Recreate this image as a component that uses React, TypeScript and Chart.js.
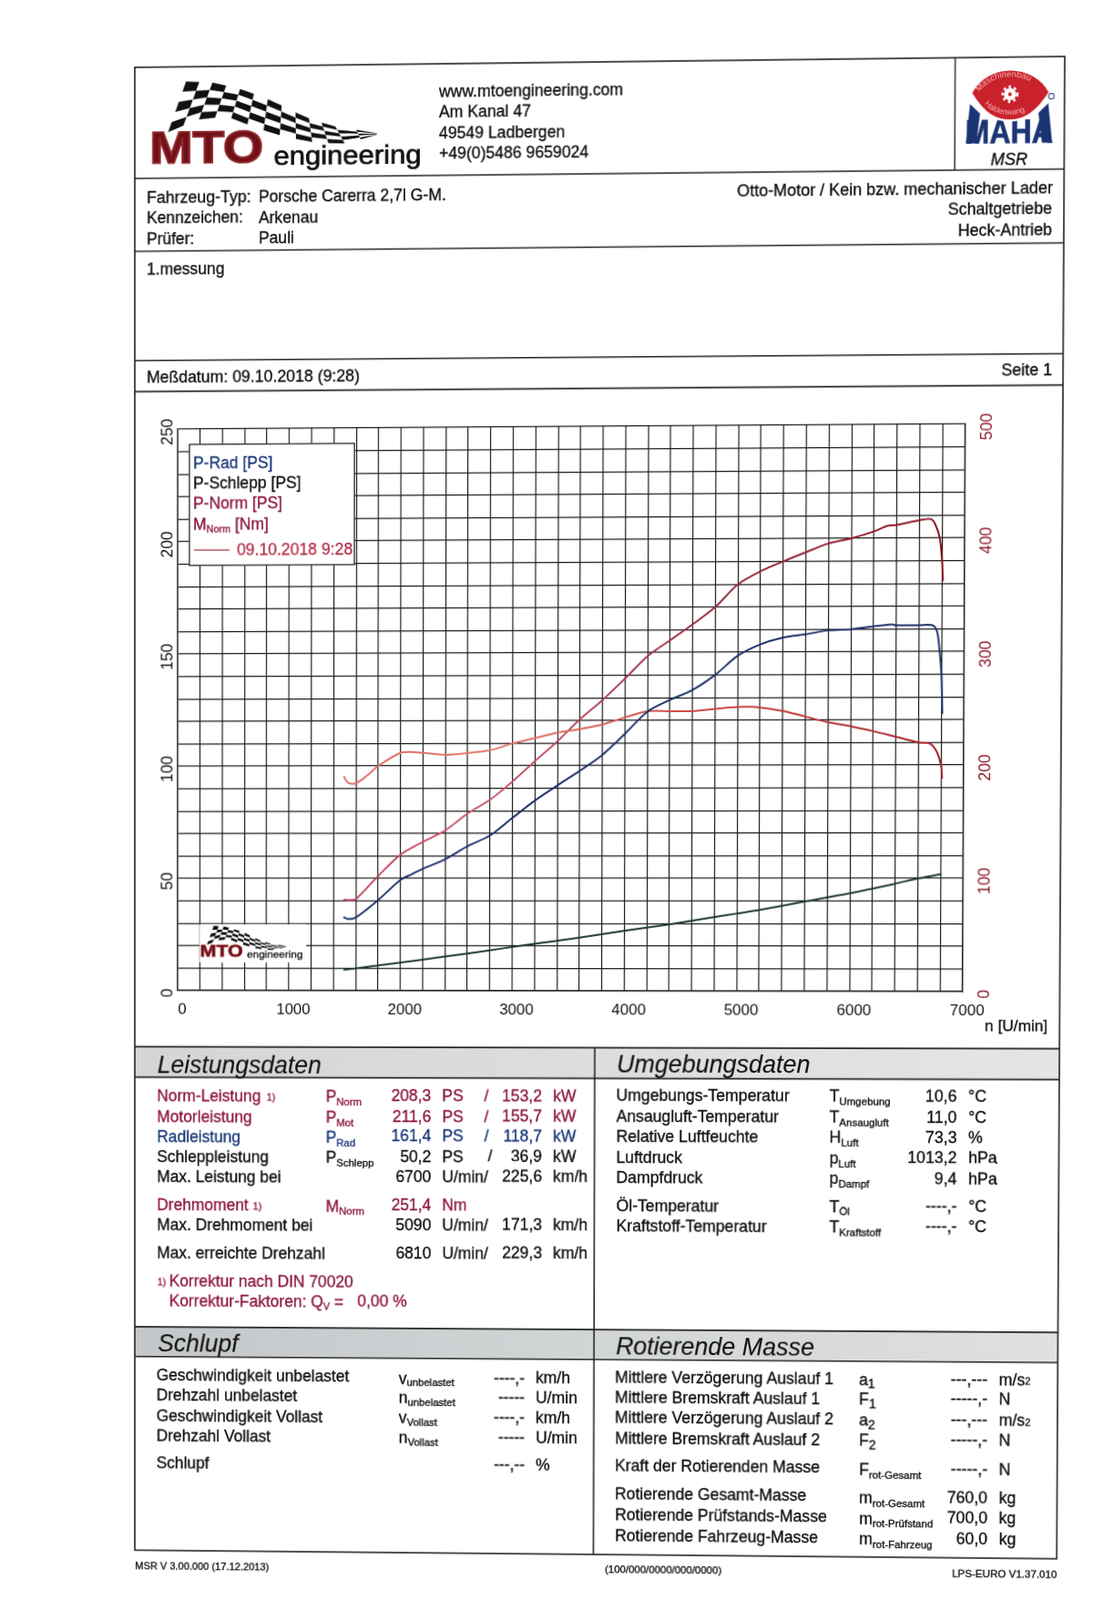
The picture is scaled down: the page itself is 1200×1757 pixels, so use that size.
import React, { useEffect, useRef } from "react";
import { Chart, registerables } from "chart.js";
Chart.register(...registerables);

// ---------- chart data ----------
const radRpm = [1490,1530,1600,1800,2000,2100,2200,2400,2600,2800,3000,3200,3400,3600,3800,4000,4200,4400,4600,4800,5000,5200,5400,5600,5800,6000,6200,6360,6400,6600,6720,6760,6780,6800,6810];
const radPs = [32.8,31.9,32.6,40.3,49.3,51.8,54.2,58.5,64.3,69,76.8,84.5,91.2,97.7,104.7,114,123.8,129,133.4,140,148.4,153.4,156.4,157.8,159.5,160,161.2,162,161.6,161.6,161.6,158.8,152,140,122.5];
const schleppRpm = [1490,2000,2400,2800,3000,3200,3600,4000,4400,4800,5000,5200,5600,6000,6400,6600,6810];
const schleppPs = [9.2,12.5,15.2,18,19.5,20.9,23.7,26.7,29.6,32.8,34.4,36,39.7,43.4,47.6,49.9,51.8];
const normRpm = [1490,1550,1600,1800,2000,2200,2400,2600,2800,3000,3200,3400,3600,3800,4000,4200,4400,4600,4800,5000,5200,5400,5600,5800,6000,6200,6320,6400,6600,6700,6740,6780,6800,6810];
const normPs = [40.5,40.3,40.7,51,60.5,66.2,71.3,78.8,84.9,93,102,110.8,120.5,129,138.5,148.4,155.4,162.4,170,180,185.7,190,194,197.8,200,203,205.5,205.8,207.8,208.3,206,200,190.7,181];
const torqueRpm = [1490,1530,1600,1700,1800,2000,2100,2200,2400,2600,2800,3000,3200,3400,3600,3800,4000,4200,4400,4600,4800,5000,5150,5400,5600,5800,6000,6200,6400,6600,6700,6760,6800,6810];
const torqueNm = [191,185,184.6,191.4,200,211.6,212.4,211.6,209.8,211.4,213.8,219.8,224.4,229.2,232.4,236.4,242.6,248,248,248,250,251.6,251.6,248,243,238,234.4,230,225,220,219,212,200,188];

// ---------- page geometry: the sheet is photographed slightly in perspective ----------
const FX = 148, FY = 74, FW = 1021, FH = 1628;
const Q = [[148, 74], [1169, 62], [1160, 1711.5], [148, 1702]];

function solveQuad() {
  const [[x0, y0], [x1, y1], [x2, y2], [x3, y3]] = Q;
  const dx1 = x1 - x2, dx2 = x3 - x2, sx = x0 - x1 + x2 - x3;
  const dy1 = y1 - y2, dy2 = y3 - y2, sy = y0 - y1 + y2 - y3;
  const det = dx1 * dy2 - dx2 * dy1;
  const g = (sx * dy2 - dx2 * sy) / det;
  const h = (dx1 * sy - sx * dy1) / det;
  return { a: x1 - x0 + g * x1, b: x3 - x0 + h * x3, c: x0, d: y1 - y0 + g * y1, e: y3 - y0 + h * y3, f: y0, g, h };
}
const H = solveQuad();
const matrix = (() => {
  const { a, b, c, d, e, f, g, h } = H;
  const A = a / FW, B = b / FH, C = c - (a * FX) / FW - (b * FY) / FH;
  const D = d / FW, E = e / FH, F = f - (d * FX) / FW - (e * FY) / FH;
  const G = g / FW, I = h / FH, J = 1 - (g * FX) / FW - (h * FY) / FH;
  return `matrix3d(${[A, D, 0, G, B, E, 0, I, 0, 0, 1, 0, C, F, 0, J].join(",")})`;
})();
// photo position -> sheet position
function inv(X: number, Y: number): [number, number] {
  const { a, b, c, d, e, f, g, h } = H;
  const p = a - g * X, q = b - h * X, r = X - c;
  const s = d - g * Y, t = e - h * Y, w = Y - f;
  const det = p * t - q * s;
  const u = (r * t - q * w) / det, v = (p * w - r * s) / det;
  return [FX + u * FW, FY + v * FH];
}

const PLOT_TL = inv(195.4, 471.5);
const PLOT_BR = inv(1057, 1088.7);
const PLOT_W = Math.round(PLOT_BR[0] - PLOT_TL[0]);
const PLOT_H = Math.round(PLOT_BR[1] - PLOT_TL[1]);
const PAD_L = 60, PAD_R = 50, PAD_T = 20, PAD_B = 45;

const FONT = "'Liberation Sans', Arial, sans-serif";
const BLACK = "#111";
const RED = "#8e1a3c";
const BLUE = "#1d3a7a";

// ---------- svg helpers ----------
type TO = { size?: number; fill?: string; anchor?: string; italic?: boolean; bold?: boolean; len?: number; sw?: number };
function T(x: number, y: number, s: any, o: TO = {}, key?: any) {
  const [fx, fy] = inv(x, y);
  const fill = o.fill || BLACK;
  return (
    <text key={key ?? `${x}-${y}-${String(s)}`} x={fx} y={fy} fontSize={o.size || 17.7} fontFamily={FONT} fill={fill} stroke={fill} strokeWidth={o.sw ?? 0.35}
      textAnchor={o.anchor || "start"} fontStyle={o.italic ? "italic" : "normal"} fontWeight={o.bold ? "bold" : "normal"}
      textLength={o.len} lengthAdjust={o.len ? "spacingAndGlyphs" : undefined}>{s}</text>
  );
}
function Sym(x: number, y: number, main: string, sub: string, fill = BLACK, dy = 3.7, subSize = 11.5) {
  return T(x, y, <>{main}<tspan fontSize={subSize} dy={dy}>{sub}</tspan></>, { fill }, `${x}-${y}-${main}${sub}`);
}
function HLine({ y, x1 = 148, x2 = 1169, w = 1.6 }: any) {
  const fy = inv(148, y)[1];
  return <line x1={x1} x2={x2} y1={fy} y2={fy} stroke="#222" strokeWidth={w} />;
}

// checker flag: cells are spanned between two edges of the flag
const flagTop = [[165,60],[260,65],[360,90],[460,130],[560,180],[650,210],[800,235]];
const flagBot = [[105,225],[200,185],[300,175],[400,215],[500,245],[600,265],[700,268],[800,240]];
function along(line: number[][], t: number) {
  const n = line.length - 1, p = Math.min(n - 1e-6, t * n), i = Math.floor(p), r = p - i;
  return [line[i][0] + (line[i + 1][0] - line[i][0]) * r, line[i][1] + (line[i + 1][1] - line[i][1]) * r];
}
function Checks() {
  const cols = 13, rows = 5, out: any[] = [];
  for (let i = 0; i < cols; i++) for (let j = 0; j < rows; j++) {
    if ((i + j) % 2) continue;
    const pt = (ci: number, cj: number) => {
      const a = along(flagTop, ci / cols), b = along(flagBot, ci / cols), r = cj / rows;
      return `${a[0] + (b[0] - a[0]) * r},${a[1] + (b[1] - a[1]) * r}`;
    };
    out.push(<polygon key={`${i}-${j}`} points={[pt(i, j), pt(i + 1, j), pt(i + 1, j + 1), pt(i, j + 1)].join(" ")} fill="#111" />);
  }
  return <g>{out}</g>;
}
// logo, drawn in the 3x units of its crop: origin at crop (150,70)
function MtoLogo({ x, y, s }: any) {
  const [fx, fy] = inv(x, y);
  return (
    <g transform={`translate(${fx},${fy}) scale(${s})`}>
      <Checks />
      <text x={44} y={325} fontFamily={FONT} fontWeight="bold" fontSize={146} fill="#6e1018" stroke="#8e2428" strokeWidth={6} textLength={378} lengthAdjust="spacingAndGlyphs">MTO</text>
      <text x={457} y={335} fontFamily={FONT} fontSize={86} fill="#111" stroke="#111" strokeWidth={2} textLength={490} lengthAdjust="spacingAndGlyphs">engineering</text>
    </g>
  );
}
function MahaLogo() {
  const [fx, fy] = inv(1040, 60);
  return (
    <g transform={`translate(${fx},${fy}) scale(0.3333)`}>
      <polygon points="62,288 75,160 108,192 96,288" fill="#1b3474" />
      <polygon points="343,288 330,160 298,192 310,288" fill="#1b3474" />
      <text x={60} y={288} fontFamily={FONT} fontWeight="bold" fontSize={109} fill="#1b3474" stroke="#1b3474" strokeWidth={2} textLength={285} lengthAdjust="spacingAndGlyphs">MAHA</text>
      <path d="M78,125 C130,25 280,25 335,125 C290,195 250,215 205,215 C160,215 120,195 78,125 Z" fill="#c9222c" stroke="#fff" strokeWidth={7} />
      <defs>
        <path id="mahaTop" d="M105,122 C150,58 260,58 310,122" />
        <path id="mahaBot" d="M122,160 C160,208 250,208 290,160" />
      </defs>
      <text fontFamily={FONT} fontSize={28} fill="#f6b7b7"><textPath href="#mahaTop">Maschinenbau</textPath></text>
      <text fontFamily={FONT} fontSize={26} fill="#f6b7b7"><textPath href="#mahaBot">Haldenwang</textPath></text>
      <circle cx={205} cy={130} r={20} fill="#fff" />
      <circle cx={205} cy={130} r={24} fill="none" stroke="#fff" strokeWidth={8} strokeDasharray="8 10" />
      <circle cx={205} cy={130} r={6} fill="#c9222c" />
      <circle cx={340} cy={138} r={9} fill="#fff" stroke="#1b3474" strokeWidth={3} />
    </g>
  );
}

// ---------- table rows ----------
const powerRows: any[] = [
  { label: "Norm-Leistung", note: 292.7, sym: "P", sub: "Norm", val: "208,3", unit: "PS", slash: 534, val2: "153,2", unit2: "kW", y: 1209, c: RED },
  { label: "Motorleistung", sym: "P", sub: "Mot", val: "211,6", unit: "PS", slash: 534, val2: "155,7", unit2: "kW", y: 1231.7, c: RED },
  { label: "Radleistung", sym: "P", sub: "Rad", val: "161,4", unit: "PS", slash: 534, val2: "118,7", unit2: "kW", y: 1253.5, c: BLUE },
  { label: "Schleppleistung", sym: "P", sub: "Schlepp", val: "50,2", unit: "PS", slash: 538, val2: "36,9", unit2: "kW", y: 1275.7, c: BLACK },
  { label: "Max. Leistung bei", val: "6700", unit: "U/min/", val2: "225,6", unit2: "km/h", y: 1298, c: BLACK },
  { label: "Drehmoment", note: 277.7, sym: "M", sub: "Norm", val: "251,4", unit: "Nm", y: 1329, c: RED },
  { label: "Max. Drehmoment bei", val: "5090", unit: "U/min/", val2: "171,3", unit2: "km/h", y: 1351, c: BLACK },
  { label: "Max. erreichte Drehzahl", val: "6810", unit: "U/min/", val2: "229,3", unit2: "km/h", y: 1381.7, c: BLACK },
];
const envRows = [
  ["Umgebungs-Temperatur", "T", "Umgebung", "10,6", "°C", 1208.5],
  ["Ansaugluft-Temperatur", "T", "Ansaugluft", "11,0", "°C", 1231.5],
  ["Relative Luftfeuchte", "H", "Luft", "73,3", "%", 1254],
  ["Luftdruck", "p", "Luft", "1013,2", "hPa", 1276.5],
  ["Dampfdruck", "p", "Dampf", "9,4", "hPa", 1299],
  ["Öl-Temperatur", "T", "Öl", "----,-", "°C", 1329.5],
  ["Kraftstoff-Temperatur", "T", "Kraftstoff", "----,-", "°C", 1352],
] as const;
const slipRows = [
  ["Geschwindigkeit unbelastet", "v", "unbelastet", "----,-", "km/h", 1516, 1519],
  ["Drehzahl unbelastet", "n", "unbelastet", "-----", "U/min", 1537.7, 1540.5],
  ["Geschwindigkeit Vollast", "v", "Vollast", "----,-", "km/h", 1560, 1562.5],
  ["Drehzahl Vollast", "n", "Vollast", "-----", "U/min", 1582, 1584.5],
  ["Schlupf", "", "", "---,--", "%", 1612, 1614],
] as const;
const massRows = [
  ["Mittlere Verzögerung Auslauf 1", "a", "1", "---,---", "m/s", 1518, 1520.7],
  ["Mittlere Bremskraft Auslauf 1", "F", "1", "-----,-", "N", 1540, 1542.5],
  ["Mittlere Verzögerung Auslauf 2", "a", "2", "---,---", "m/s", 1562.3, 1565.5],
  ["Mittlere Bremskraft Auslauf 2", "F", "2", "-----,-", "N", 1585, 1587.5],
  ["Kraft der Rotierenden Masse", "F", "rot-Gesamt", "-----,-", "N", 1615, 1619.5],
  ["Rotierende Gesamt-Masse", "m", "rot-Gesamt", "760,0", "kg", 1646.5, 1650.5],
  ["Rotierende Prüfstands-Masse", "m", "rot-Prüfstand", "700,0", "kg", 1669, 1673],
  ["Rotierende Fahrzeug-Masse", "m", "rot-Fahrzeug", "60,0", "kg", 1691.5, 1695.5],
] as const;

function Sheet() {
  const splitX = inv(652.3, 1400)[0];
  const bar = (top: number, bottom: number, x1: number, x2: number, id: string) => {
    const a = inv(148, top)[1], b = inv(148, bottom)[1];
    return <rect x={x1} y={a} width={x2 - x1} height={b - a} fill={`url(#${id})`} />;
  };
  const legendTL = inv(208, 488), legendBR = inv(389, 620);
  const logoTL = inv(219, 1015), logoBR = inv(336, 1057);
  const sepX = inv(1048.5, 120)[0];
  return (
    <svg width={1200} height={1757} style={{ position: "absolute", left: 0, top: 0 }}>
      <defs>
        <linearGradient id="bar1" x1="0" x2="1" y1="0" y2="0"><stop offset="0" stopColor="#d4d6d5" /><stop offset="1" stopColor="#e4e5e4" /></linearGradient>
        <linearGradient id="bar2" x1="0" x2="1" y1="0" y2="0"><stop offset="0" stopColor="#c4c7c9" /><stop offset="0.5" stopColor="#d2d5d6" /><stop offset="1" stopColor="#dfe0df" /></linearGradient>
      </defs>
      {bar(1149.3, 1182.7, 148, 1169, "bar1")}
      {bar(1456.7, 1489.3, 148, 1169, "bar2")}
      <rect x={148} y={74} width={1021} height={1628} fill="none" stroke="#222" strokeWidth={1.6} />
      <HLine y={196} /><HLine y={276} /><HLine y={396} /><HLine y={430} />
      <HLine y={1149.3} /><HLine y={1182.7} /><HLine y={1456.7} /><HLine y={1489.3} />
      <line x1={splitX} x2={splitX} y1={inv(148, 1149.3)[1]} y2={1702} stroke="#222" strokeWidth={1.6} />
      <line x1={sepX} x2={sepX} y1={74} y2={inv(148, 196)[1]} stroke="#222" strokeWidth={1.4} />

      <MtoLogo x={150} y={70} s={1 / 3} />
      {T(482, 106.7, "www.mtoengineering.com")}
      {T(482, 129.3, "Am Kanal 47")}
      {T(482, 152, "49549 Ladbergen")}
      {T(482, 174.7, "+49(0)5486 9659024")}
      <MahaLogo />
      {T(1108, 180.7, "MSR", { size: 18, italic: true, anchor: "middle" })}

      {T(161, 223, "Fahrzeug-Typ:", { size: 18 })}{T(284, 222, "Porsche Carerra 2,7l G-M.")}
      {T(161, 245.7, "Kennzeichen:")}{T(284, 245, "Arkenau")}
      {T(161, 268, "Prüfer:")}{T(284, 267.7, "Pauli")}
      {T(1156, 212, "Otto-Motor / Kein bzw. mechanischer Lader", { anchor: "end", size: 17.9 })}
      {T(1155, 235, "Schaltgetriebe", { anchor: "end" })}
      {T(1155, 258, "Heck-Antrieb", { anchor: "end" })}
      {T(161, 301.7, "1.messung")}
      {T(161, 420, "Meßdatum: 09.10.2018 (9:28)", { size: 17.9 })}
      {T(1155, 411.7, "Seite 1", { anchor: "end" })}

      <rect x={legendTL[0]} y={legendTL[1]} width={legendBR[0] - legendTL[0]} height={legendBR[1] - legendTL[1]} fill="#fff" stroke="#333" strokeWidth={1.4} />
      {T(212, 514, "P-Rad [PS]", { fill: BLUE })}
      {T(212, 537, "P-Schlepp [PS]")}
      {T(212, 559, "P-Norm [PS]", { fill: RED })}
      {T(212, 582, <>M<tspan fontSize={11} dy={3}>Norm</tspan><tspan dy={-3}> [Nm]</tspan></>, { fill: RED }, "mnorm")}
      <line x1={inv(213, 604)[0]} x2={inv(252, 604)[0]} y1={inv(213, 604)[1]} y2={inv(252, 604)[1]} stroke="#a83246" strokeWidth={1.2} />
      {T(260, 610, "09.10.2018 9:28", { size: 17.8, fill: "#b83650" })}

      <rect x={logoTL[0]} y={logoTL[1]} width={logoBR[0] - logoTL[0]} height={logoBR[1] - logoTL[1]} fill="#fff" />
      <MtoLogo x={214} y={1009} s={0.127} />
      {T(1081, 1131.7, "n [U/min]", { size: 17.2 })}

      {T(172.7, 1177.7, "Leistungsdaten", { size: 27, italic: true, sw: 0.1 })}
      {T(677, 1177.7, "Umgebungsdaten", { size: 27, italic: true, sw: 0.1 })}
      {T(173.3, 1484.3, "Schlupf", { size: 27, italic: true, sw: 0.1 })}
      {T(676, 1486.7, "Rotierende Masse", { size: 27, italic: true, sw: 0.1 })}

      {powerRows.map((r) => (
        <g key={r.label}>
          {T(172.3, r.y, r.label, { fill: r.c })}
          {r.note ? T(r.note, r.y - 1, "1)", { size: 11, fill: r.c }) : null}
          {r.sym ? Sym(357.7, r.y + 1, r.sym, r.sub, r.c) : null}
          {T(473.3, r.y, r.val, { fill: r.c, anchor: "end" })}
          {T(485.3, r.y, r.unit, { fill: r.c })}
          {r.slash ? T(r.slash, r.y, "/", { fill: r.c, anchor: "middle" }) : null}
          {r.val2 ? T(595, r.y, r.val2, { fill: r.c, anchor: "end" }) : null}
          {r.unit2 ? T(607, r.y, r.unit2, { fill: r.c }) : null}
        </g>
      ))}
      {T(172.7, 1411, "1)", { size: 11, fill: RED })}
      {T(185.7, 1412.5, "Korrektur nach DIN 70020", { fill: RED })}
      {T(185.7, 1434.5, <>Korrektur-Faktoren: Q<tspan fontSize={11} dy={3}>V</tspan><tspan dy={-3}> =</tspan></>, { fill: RED }, "kf")}
      {T(392.3, 1434.5, "0,00 %", { fill: RED })}

      {envRows.map((r) => (
        <g key={r[0]}>
          {T(676.5, r[5], r[0])}
          {Sym(910.5, r[5] + 1, r[1], r[2])}
          {T(1050.4, r[5] + 1, r[3], { anchor: "end" })}
          {T(1063, r[5] + 1, r[4])}
        </g>
      ))}
      {slipRows.map((r) => (
        <g key={r[0]}>
          {T(171.7, r[5], r[0])}
          {r[1] ? Sym(437.7, r[6], r[1], r[2], BLACK, 2.7) : null}
          {T(576, r[6], r[3], { anchor: "end" })}
          {T(588, r[6], r[4])}
        </g>
      ))}
      {massRows.map((r) => (
        <g key={r[0]}>
          {T(675, r[5], r[0])}
          {Sym(943, r[6], r[1], r[2], BLACK, 3.5, r[2].length === 1 ? 14 : 11.5)}
          {T(1084, r[6], r[3], { anchor: "end" })}
          {T(1096.5, r[6], r[4] === "m/s" ? <>m/s<tspan fontSize={11} dy={-0.5}>2</tspan></> : r[4], {}, `u${r[0]}`)}
        </g>
      ))}

      {T(148.3, 1722.7, "MSR V 3.00.000 (17.12.2013)", { size: 11.5, len: 150, sw: 0.35 })}
      {T(664, 1726.7, "(100/000/0000/000/0000)", { size: 11.5, len: 129, sw: 0.35 })}
      {T(1045, 1731.7, "LPS-EURO V1.37.010", { size: 11.5, len: 115, sw: 0.35 })}
    </svg>
  );
}

// colour of a curve changes along the sheet, as on the photographed print
function sweep(stops: [number, string][], base: string) {
  return (c: any) => {
    const { ctx, chartArea } = c.chart;
    if (!chartArea) return base;
    const g = ctx.createLinearGradient(chartArea.left, 0, chartArea.right, 0);
    stops.forEach(([o, col]) => g.addColorStop(o, col));
    return g;
  };
}
const pairs = (xs: number[], ys: number[]) => xs.map((x, i) => ({ x, y: ys[i] }));

export default function App() {
  const ref = useRef<HTMLCanvasElement>(null);
  useEffect(() => {
    document.body.style.margin = "0";
    document.body.style.overflow = "hidden";
    document.body.style.background = "#fff";
    const line = (label: string, d: any[], color: any, yAxisID: string) => ({
      label, data: d, borderColor: color, borderWidth: 2, pointRadius: 0, yAxisID, tension: 0.3, fill: false,
    });
    const chart = new Chart(ref.current!, {
      type: "line",
      data: {
        datasets: [
          line("P-Schlepp [PS]", pairs(schleppRpm, schleppPs), "#1c3a2a", "y"),
          line("P-Rad [PS]", pairs(radRpm, radPs), "#1b2f6a", "y"),
          line("M-Norm [Nm]", pairs(torqueRpm, torqueNm), sweep([[0, "#e0625e"], [0.4, "#e07868"], [0.7, "#c8443f"], [1, "#a01c26"]], "#c8444f"), "y2"),
          line("P-Norm [PS]", pairs(normRpm, normPs), sweep([[0, "#a8243c"], [0.4, "#cc5e70"], [0.6, "#a03048"], [1, "#86121f"]], "#9c1f3a"), "y"),
        ],
      },
      options: {
        animation: false,
        responsive: false,
        events: [],
        layout: { autoPadding: false, padding: { top: PAD_T, left: 0, right: 0, bottom: 0 } },
        plugins: { legend: { display: false }, tooltip: { enabled: false } },
        scales: {
          x: {
            type: "linear", min: 0, max: 7000,
            afterFit: (s: any) => { s.height = PAD_B; },
            grid: { color: "#1c1c1c", lineWidth: 1.2, drawTicks: false },
            border: { color: "#1c1c1c", width: 1.4 },
            ticks: {
              stepSize: 200, autoSkip: false, maxRotation: 0, padding: 11, labelOffset: 5, color: "#111",
              font: { family: "'Liberation Sans'", size: 17 },
              callback: (v: any) => (v % 1000 === 0 ? String(v) : ""),
            },
          },
          y: {
            min: 0, max: 250, position: "left",
            afterFit: (s: any) => { s.width = PAD_L; },
            grid: { color: "#1c1c1c", lineWidth: 1.2, drawTicks: false },
            border: { color: "#1c1c1c", width: 1.4 },
            ticks: {
              stepSize: 10, autoSkip: false, minRotation: 90, maxRotation: 90, crossAlign: "center", padding: -4, labelOffset: 3, color: "#111",
              font: { family: "'Liberation Sans'", size: 17.5 },
              callback: (v: any) => (v % 50 === 0 ? String(v) : ""),
            },
          },
          y2: {
            min: 0, max: 500, position: "right",
            afterFit: (s: any) => { s.width = PAD_R; },
            grid: { display: false, drawTicks: false },
            border: { color: "#1c1c1c", width: 1.4 },
            ticks: {
              stepSize: 20, autoSkip: false, minRotation: 90, maxRotation: 90, crossAlign: "center", padding: 9.5, labelOffset: 3, color: "#8c1c2c",
              font: { family: "'Liberation Sans'", size: 17.5 },
              callback: (v: any) => (v % 100 === 0 ? String(v) : ""),
            },
          },
        },
      },
    } as any);
    return () => chart.destroy();
  }, []);

  return (
    <div style={{ position: "absolute", left: 0, top: 0, width: 1200, height: 1757, transform: matrix, transformOrigin: "0 0", background: "#fff" }}>
      <canvas ref={ref} width={PLOT_W + PAD_L + PAD_R} height={PLOT_H + PAD_T + PAD_B}
        style={{ position: "absolute", left: PLOT_TL[0] - PAD_L, top: PLOT_TL[1] - PAD_T, width: PLOT_W + PAD_L + PAD_R, height: PLOT_H + PAD_T + PAD_B }} />
      <Sheet />
    </div>
  );
}
